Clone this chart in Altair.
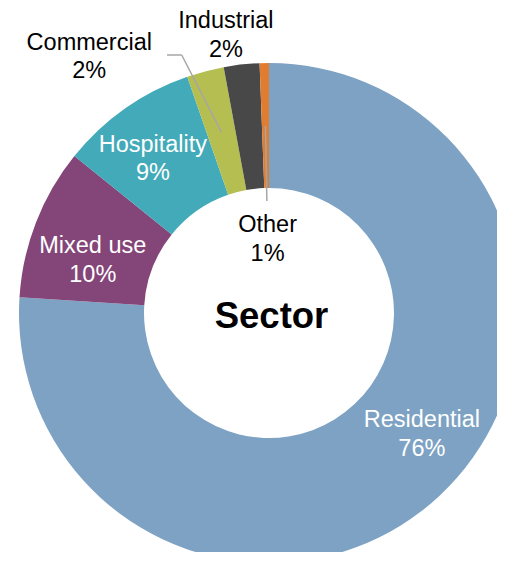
import math
import pandas as pd
import altair as alt

# ---- data ----
categories = ["Residential", "Mixed use", "Hospitality", "Commercial", "Industrial", "Other"]
shares = [76.0, 9.8, 8.9, 2.4, 2.3, 0.6]
colors = ["#7DA2C3", "#844579", "#42AAB8", "#B5BE50", "#484848", "#E07D30"]
center_title = "Sector"

df = pd.DataFrame({"category": categories, "share": shares, "idx": list(range(len(categories)))})
df["label"] = df["category"] + "\n" + df["share"].round().astype(int).astype(str) + "%"

# ---- layout ----
W, H = 489, 544
CX, CY = 261, 305
R_OUT, R_IN = 250, 125
FONT = "Liberation Sans"

total = sum(shares)
mid = {}
acc = 0.0
for c, v in zip(categories, shares):
    mid[c] = 2 * math.pi * (acc + v / 2) / total
    acc += v


def polar(a, r):
    return CX + r * math.sin(a), CY - r * math.cos(a)


base = alt.Chart(df).encode(
    theta=alt.Theta("share:Q", stack=True),
    order=alt.Order("idx:Q", sort="ascending"),
    x=alt.value(CX),
    y=alt.value(CY),
)

arcs = base.mark_arc(innerRadius=R_IN, outerRadius=R_OUT).encode(
    color=alt.Color("category:N", scale=alt.Scale(domain=categories, range=colors), legend=None)
)

label_specs = [
    ("Residential", 195, -0.147, "#FFFFFF"),
    ("Mixed use", 184, -0.079, "#FFFFFF"),
    ("Hospitality", 193, -0.033, "#FFFFFF"),
    ("Commercial", 313, -0.354, "#000000"),
    ("Industrial", 281, -0.044, "#000000"),
    ("Other", 74, 0.0, "#000000"),
]

text_layers = []
for cat, r, off, col in label_specs:
    text_layers.append(
        base.mark_text(
            radius=r, thetaOffset=off, font=FONT, fontSize=23.5, color=col,
            lineBreak="\n", lineHeight=28.5, align="center", baseline="middle", dy=-14,
        ).encode(text=alt.condition(alt.datum.category == cat, alt.Text("label:N"), alt.value("")))
    )

# leader lines (derived from slice mid-angles)
c0 = polar(mid["Commercial"], 187)
o0 = polar(mid["Other"], 187)
o1 = polar(mid["Other"], 112)
elbow = (CX - 87.3, CY - 258)
leaders = pd.DataFrame({
    "x": [c0[0], elbow[0], o0[0]],
    "y": [c0[1], elbow[1], o0[1]],
    "x2": [elbow[0], elbow[0] - 14.7, o1[0]],
    "y2": [elbow[1], elbow[1], o1[1]],
})
leader_lines = alt.Chart(leaders).mark_rule(color="#A6A6A6", strokeWidth=1.5).encode(
    x=alt.X("x:Q", scale=None, axis=None),
    y=alt.Y("y:Q", scale=None, axis=None),
    x2="x2:Q",
    y2="y2:Q",
)

title_text = alt.Chart(pd.DataFrame({"t": [center_title]})).mark_text(
    font=FONT, fontSize=36.5, fontWeight="bold", color="#000000", align="center", baseline="middle"
).encode(text="t:N", x=alt.value(CX + 2.5), y=alt.value(CY + 4))

chart = alt.layer(arcs, *text_layers, leader_lines, title_text).properties(
    width=W, height=H, autosize=alt.AutoSizeParams(type="none"), padding=0, background="white"
).configure_view(stroke=None)

chart.save("out.html", embed_options={"renderer": "svg", "actions": False})
